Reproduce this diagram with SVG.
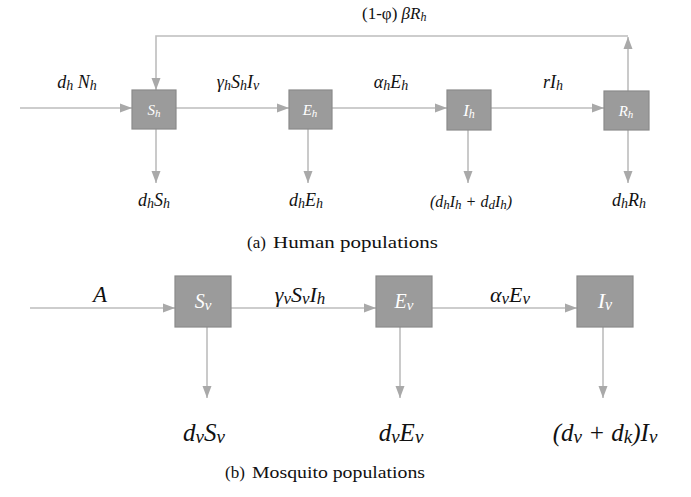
<svg xmlns="http://www.w3.org/2000/svg" width="691" height="497" viewBox="0 0 691 497">
<defs>
<marker id="ah" markerUnits="userSpaceOnUse" markerWidth="12" markerHeight="12" viewBox="0 0 12 12" refX="12" refY="6" orient="auto">
<path d="M0,1.5 L12,6 L0,10.5 Z" fill="#a9a9a9"/>
</marker>
</defs>
<rect width="691" height="497" fill="#ffffff"/>
<g id="connectors" fill="none" stroke="#bdbdbd" stroke-width="1.6" marker-end="url(#ah)">
<path d="M20,108 H132"/>
<path d="M176,108 H289"/>
<path d="M332,108 H447"/>
<path d="M491,108 H604"/>
<path d="M628,91 V37"/>
<path d="M628,36 H156 V90"/>
<path d="M156,129 V183"/>
<path d="M308,129 V183"/>
<path d="M468,130 V183"/>
<path d="M628,130 V183"/>
<path d="M30,308 H175"/>
<path d="M231,308 H376"/>
<path d="M432,308 H577"/>
<path d="M207,327 V398"/>
<path d="M400,327 V398"/>
<path d="M603,327 V398"/>
</g>
<g fill="#9b9b9b" stroke="#8a8a8a" stroke-width="1.2">
<g id="Sh"><rect x="132" y="90" width="44" height="39"/><text fill="#ffffff" stroke="none" text-anchor="middle" font-family="Liberation Serif" font-style="italic" x="154" y="115" font-size="15">S<tspan font-size="11" dy="2">h</tspan></text></g>
<g id="Eh"><rect x="289" y="90" width="43" height="39"/><text fill="#ffffff" stroke="none" text-anchor="middle" font-family="Liberation Serif" font-style="italic" x="310" y="115" font-size="15">E<tspan font-size="11" dy="2">h</tspan></text></g>
<g id="Ih"><rect x="447" y="90" width="44" height="40"/><text fill="#ffffff" stroke="none" text-anchor="middle" font-family="Liberation Serif" font-style="italic" x="469" y="116" font-size="17">I<tspan font-size="12" dy="2">h</tspan></text></g>
<g id="Rh"><rect x="604" y="91" width="45" height="39"/><text fill="#ffffff" stroke="none" text-anchor="middle" font-family="Liberation Serif" font-style="italic" x="626" y="116" font-size="15">R<tspan font-size="11" dy="2">h</tspan></text></g>
<g id="Sv"><rect x="175" y="276" width="56" height="51"/><text fill="#ffffff" stroke="none" text-anchor="middle" font-family="Liberation Serif" font-style="italic" x="203" y="308" font-size="20">S<tspan font-size="15" dy="2">v</tspan></text></g>
<g id="Ev"><rect x="376" y="276" width="56" height="51"/><text fill="#ffffff" stroke="none" text-anchor="middle" font-family="Liberation Serif" font-style="italic" x="404" y="308" font-size="20">E<tspan font-size="15" dy="2">v</tspan></text></g>
<g id="Iv"><rect x="577" y="276" width="56" height="51"/><text fill="#ffffff" stroke="none" text-anchor="middle" font-family="Liberation Serif" font-style="italic" x="605" y="308" font-size="22">I<tspan font-size="16" dy="2">v</tspan></text></g>
</g>
<g id="labels" fill="#111111">
<text font-family="Liberation Serif" x="362" y="19" font-size="17" xml:space="preserve">(1-φ) <tspan font-style="italic">βR<tspan font-size="12" dy="2">h</tspan></tspan></text>
<text text-anchor="middle" font-family="Liberation Serif" font-style="italic" x="77" y="88" font-size="18">d<tspan font-size="14" dy="2">h</tspan><tspan dy="-2"> N</tspan><tspan font-size="14" dy="2">h</tspan></text>
<text text-anchor="middle" font-family="Liberation Serif" font-style="italic" x="238" y="88" font-size="18">γ<tspan font-size="14" dy="2">h</tspan><tspan dy="-2">S</tspan><tspan font-size="14" dy="2">h</tspan><tspan dy="-2">I</tspan><tspan font-size="14" dy="2">v</tspan></text>
<text text-anchor="middle" font-family="Liberation Serif" font-style="italic" x="391" y="88" font-size="18">α<tspan font-size="14" dy="2">h</tspan><tspan dy="-2">E</tspan><tspan font-size="14" dy="2">h</tspan></text>
<text text-anchor="middle" font-family="Liberation Serif" font-style="italic" x="553" y="88" font-size="18">rI<tspan font-size="14" dy="2">h</tspan></text>
<text text-anchor="middle" font-family="Liberation Serif" font-style="italic" x="154" y="206" font-size="18">d<tspan font-size="14" dy="2">h</tspan><tspan dy="-2">S</tspan><tspan font-size="14" dy="2">h</tspan></text>
<text text-anchor="middle" font-family="Liberation Serif" font-style="italic" x="306" y="206" font-size="18">d<tspan font-size="14" dy="2">h</tspan><tspan dy="-2">E</tspan><tspan font-size="14" dy="2">h</tspan></text>
<text text-anchor="middle" font-family="Liberation Serif" font-style="italic" x="471" y="207" font-size="16" xml:space="preserve">(d<tspan font-size="13" dy="2">h</tspan><tspan dy="-2">I</tspan><tspan font-size="13" dy="2">h</tspan><tspan dy="-2"> + d</tspan><tspan font-size="13" dy="2">d</tspan><tspan dy="-2">I</tspan><tspan font-size="13" dy="2">h</tspan><tspan dy="-2">)</tspan></text>
<text text-anchor="middle" font-family="Liberation Serif" font-style="italic" x="629" y="206" font-size="18">d<tspan font-size="14" dy="2">h</tspan><tspan dy="-2">R</tspan><tspan font-size="14" dy="2">h</tspan></text>
<text text-anchor="middle" font-family="Liberation Serif" font-style="italic" x="100" y="302" font-size="23">A</text>
<text text-anchor="middle" font-family="Liberation Serif" font-style="italic" x="300" y="302" font-size="22">γ<tspan font-size="17" dy="2">v</tspan><tspan dy="-2">S</tspan><tspan font-size="17" dy="2">v</tspan><tspan dy="-2">I</tspan><tspan font-size="17" dy="2">h</tspan></text>
<text text-anchor="middle" font-family="Liberation Serif" font-style="italic" x="510" y="302" font-size="22">α<tspan font-size="17" dy="2">v</tspan><tspan dy="-2">E</tspan><tspan font-size="17" dy="2">v</tspan></text>
<text text-anchor="middle" font-family="Liberation Serif" font-style="italic" x="204" y="441" font-size="25">d<tspan font-size="19" dy="2">v</tspan><tspan dy="-2">S</tspan><tspan font-size="19" dy="2">v</tspan></text>
<text text-anchor="middle" font-family="Liberation Serif" font-style="italic" x="401" y="441" font-size="25">d<tspan font-size="19" dy="2">v</tspan><tspan dy="-2">E</tspan><tspan font-size="19" dy="2">v</tspan></text>
<text text-anchor="middle" font-family="Liberation Serif" font-style="italic" x="605" y="441" font-size="25" xml:space="preserve">(d<tspan font-size="19" dy="2">v</tspan><tspan dy="-2"> + d</tspan><tspan font-size="19" dy="2">k</tspan><tspan dy="-2">)I</tspan><tspan font-size="19" dy="2">v</tspan></text>
<text font-family="Liberation Serif" x="247" y="248" font-size="17">(a)</text>
<text font-family="Liberation Serif" x="273" y="248" font-size="17" textLength="165" lengthAdjust="spacingAndGlyphs">Human populations</text>
<text font-family="Liberation Serif" x="225" y="478" font-size="17">(b)</text>
<text font-family="Liberation Serif" x="252" y="478" font-size="17" textLength="173" lengthAdjust="spacingAndGlyphs">Mosquito populations</text>
</g>
</svg>
